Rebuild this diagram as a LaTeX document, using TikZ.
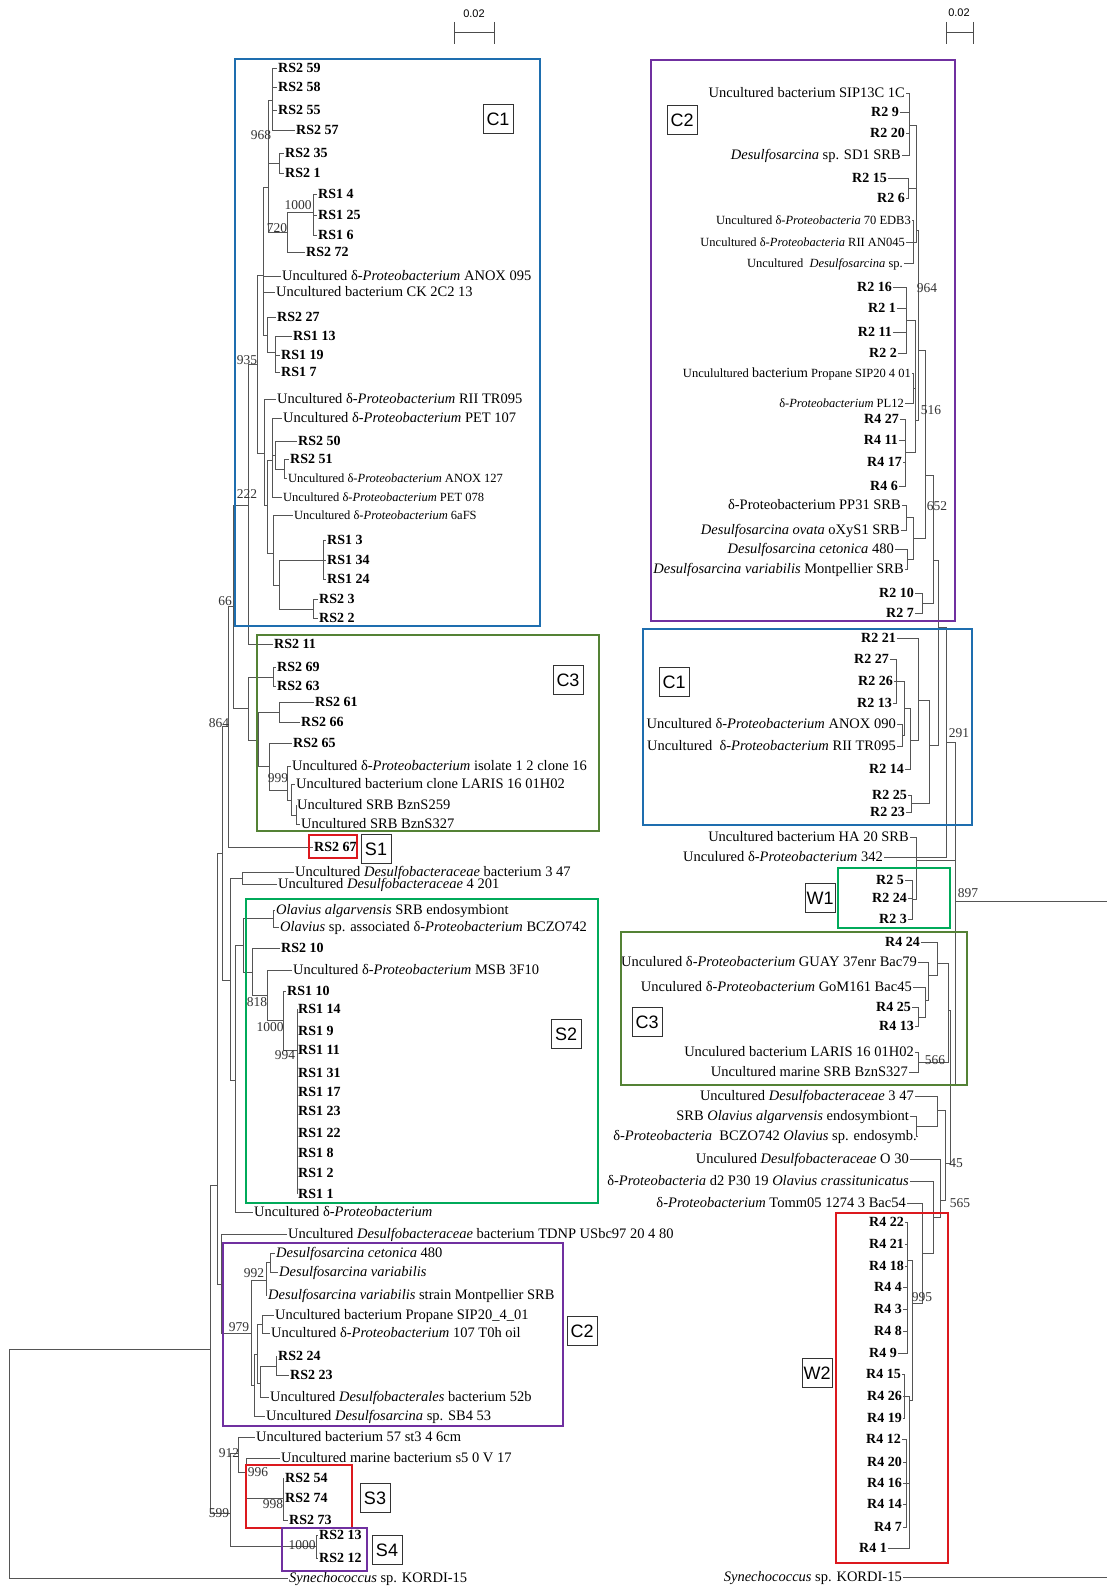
\documentclass[tikz,border=0pt]{standalone}
\usepackage{fontspec}
\setmainfont{Liberation Serif}
\newfontfamily\tagfont{Liberation Sans}
\definecolor{treegray}{RGB}{85,85,85}
\definecolor{cladeblue}{RGB}{30,110,175}
\definecolor{cladepurple}{RGB}{112,48,160}
\definecolor{cladeolive}{RGB}{84,130,53}
\definecolor{cladegreen}{RGB}{0,170,90}
\definecolor{cladered}{RGB}{220,25,30}
\tikzstyle{branch} = [draw=treegray, line width=0.8pt]
\tikzstyle{leaf} = [anchor=west, inner xsep=1pt, inner ysep=0pt, text height=9pt, text depth=0pt, font=\fontsize{14.5}{16}\selectfont]
\tikzstyle{leafb} = [leaf, font=\fontsize{14}{16}\selectfont\bfseries]
\tikzstyle{leafs} = [leaf, font=\fontsize{12.5}{14}\selectfont]
\tikzstyle{rleaf} = [leaf, anchor=east]
\tikzstyle{rleafb} = [leafb, anchor=east]
\tikzstyle{rleafs} = [leafs, anchor=east]
\tikzstyle{boot} = [inner sep=0pt, text height=8pt, text depth=0pt, text=black!80, font=\fontsize{13.5}{15}\selectfont]
\tikzstyle{clade} = [line width=2.6pt]
\tikzstyle{tag} = [draw=black!80, line width=0.7pt, fill=white, inner sep=0pt, minimum width=30pt, minimum height=29pt, font=\tagfont\fontsize{18}{20}\selectfont]
\tikzstyle{scalebar} = [draw=black!70, line width=1pt]

\begin{document}
\begin{tikzpicture}[x=1pt, y=-1pt]
\useasboundingbox (0,0) rectangle (1107,1586);
\clip (0,0) rectangle (1107,1586);

% scale bars
\node[inner sep=0pt, font=\tagfont\fontsize{11}{13}\selectfont] (sc1) at (474,14) {0.02};
\node[inner sep=0pt, font=\tagfont\fontsize{11}{13}\selectfont] (sc2) at (959,13) {0.02};
\draw[scalebar] (454,22) -- (454,44) (454,33) -- (494,33) (494,22) -- (494,44);
\draw[scalebar] (946,22) -- (946,44) (946,33) -- (973,33) (973,22) -- (973,44);

% ---------------- left tree: leaves
\node[leafb] (a1) at (277,68) {RS2 59};
\node[leafb] (a2) at (277,87) {RS2 58};
\node[leafb] (a3) at (277,110) {RS2 55};
\node[leafb] (a4) at (295,130) {RS2 57};
\node[leafb] (a5) at (284,153) {RS2 35};
\node[leafb] (a6) at (284,173) {RS2 1};
\node[leafb] (a7) at (317,194) {RS1 4};
\node[leafb] (a8) at (317,215) {RS1 25};
\node[leafb] (a9) at (317,235) {RS1 6};
\node[leafb] (a10) at (305,252) {RS2 72};
\node[leaf] (a11) at (281,276) {Uncultured δ-\textit{Proteobacterium} ANOX 095};
\node[leaf] (a12) at (275,292) {Uncultured bacterium CK 2C2 13};
\node[leafb] (a13) at (276,317) {RS2 27};
\node[leafb] (a14) at (292,336) {RS1 13};
\node[leafb] (a15) at (280,355) {RS1 19};
\node[leafb] (a16) at (280,372) {RS1 7};
\node[leaf] (a17) at (276,399) {Uncultured δ-\textit{Proteobacterium} RII TR095};
\node[leaf] (a18) at (282,418) {Uncultured δ-\textit{Proteobacterium} PET 107};
\node[leafb] (a19) at (297,441) {RS2 50};
\node[leafb] (a20) at (289,459) {RS2 51};
\node[leafs] (a21) at (287,478) {Uncultured δ-\textit{Proteobacterium} ANOX 127};
\node[leafs] (a22) at (282,497) {Uncultured δ-\textit{Proteobacterium} PET 078};
\node[leafs] (a23) at (293,515) {Uncultured δ-\textit{Proteobacterium} 6aFS};
\node[leafb] (a24) at (326,540) {RS1 3};
\node[leafb] (a25) at (326,560) {RS1 34};
\node[leafb] (a26) at (326,579) {RS1 24};
\node[leafb] (a27) at (318,599) {RS2 3};
\node[leafb] (a28) at (318,618) {RS2 2};
\node[leafb] (a29) at (273,644) {RS2 11};
\node[leafb] (a30) at (276,667) {RS2 69};
\node[leafb] (a31) at (276,686) {RS2 63};
\node[leafb] (a32) at (314,702) {RS2 61};
\node[leafb] (a33) at (300,722) {RS2 66};
\node[leafb] (a34) at (292,743) {RS2 65};
\node[leaf] (a35) at (291,766) {Uncultured δ-\textit{Proteobacterium} isolate 1 2 clone 16};
\node[leaf] (a36) at (295,784) {Uncultured bacterium clone LARIS 16 01H02};
\node[leaf] (a37) at (296,805) {Uncultured SRB BznS259};
\node[leaf] (a38) at (300,824) {Uncultured SRB BznS327};
\node[leafb] (a39) at (313,847) {RS2 67};
\node[leaf] (a40) at (294,872) {Uncultured \textit{Desulfobacteraceae} bacterium 3 47};
\node[leaf] (a41) at (277,884) {Uncultured \textit{Desulfobacteraceae} 4 201};
\node[leaf] (a42) at (275,910) {\textit{Olavius algarvensis} SRB endosymbiont};
\node[leaf] (a43) at (279,927) {\textit{Olavius} sp. associated δ-\textit{Proteobacterium} BCZO742};
\node[leafb] (a44) at (280,948) {RS2 10};
\node[leaf] (a45) at (292,970) {Uncultured δ-\textit{Proteobacterium} MSB 3F10};
\node[leafb] (a46) at (286,991) {RS1 10};
\node[leafb] (a47) at (297,1009) {RS1 14};
\node[leafb] (a48) at (297,1031) {RS1 9};
\node[leafb] (a49) at (297,1050) {RS1 11};
\node[leafb] (a50) at (297,1073) {RS1 31};
\node[leafb] (a51) at (297,1092) {RS1 17};
\node[leafb] (a52) at (297,1111) {RS1 23};
\node[leafb] (a53) at (297,1133) {RS1 22};
\node[leafb] (a54) at (297,1153) {RS1 8};
\node[leafb] (a55) at (297,1173) {RS1 2};
\node[leafb] (a56) at (297,1194) {RS1 1};
\node[leaf] (a57) at (253,1212) {Uncultured δ-\textit{Proteobacterium}};
\node[leaf] (a58) at (287,1234) {Uncultured \textit{Desulfobacteraceae} bacterium TDNP USbc97 20 4 80};
\node[leaf] (a59) at (275,1253) {\textit{Desulfosarcina cetonica} 480};
\node[leaf] (a60) at (278,1272) {\textit{Desulfosarcina variabilis}};
\node[leaf] (a61) at (267,1295) {\textit{Desulfosarcina variabilis} strain Montpellier SRB};
\node[leaf] (a62) at (274,1315) {Uncultured bacterium Propane SIP20\_4\_01};
\node[leaf] (a63) at (270,1333) {Uncultured δ-\textit{Proteobacterium} 107 T0h oil};
\node[leafb] (a64) at (277,1356) {RS2 24};
\node[leafb] (a65) at (289,1375) {RS2 23};
\node[leaf] (a66) at (269,1397) {Uncultured \textit{Desulfobacterales} bacterium 52b};
\node[leaf] (a67) at (265,1416) {Uncultured \textit{Desulfosarcina} sp. SB4 53};
\node[leaf] (a68) at (255,1437) {Uncultured bacterium 57 st3 4 6cm};
\node[leaf] (a69) at (280,1458) {Uncultured marine bacterium s5 0 V 17};
\node[leafb] (a70) at (284,1478) {RS2 54};
\node[leafb] (a71) at (284,1498) {RS2 74};
\node[leafb] (a72) at (288,1520) {RS2 73};
\node[leafb] (a73) at (318,1535) {RS2 13};
\node[leafb] (a74) at (318,1558) {RS2 12};
\node[leaf] (a75) at (288,1578) {\textit{Synechococcus} sp. KORDI-15};

% left tree: inner nodes
\coordinate (c968) at (272,100);
\coordinate (cB) at (279,163);
\coordinate (c1000a) at (313,212);
\coordinate (c720) at (287,232);
\coordinate (cC1a) at (268,187);
\coordinate (c275) at (275,352);
\coordinate (c267) at (267,335);
\coordinate (c263) at (263,275);
\coordinate (cRS3) at (323,560);
\coordinate (cRS2b) at (313,609);
\coordinate (cR) at (279,585);
\coordinate (c6a) at (273,553);
\coordinate (c51) at (284,469);
\coordinate (c50) at (275,455);
\coordinate (cP) at (272,460);
\coordinate (cQ) at (267,505);
\coordinate (cLow) at (264,453);
\coordinate (c935) at (257,364);
\coordinate (c222) at (248,505);
\coordinate (c6963) at (273,677);
\coordinate (c6166) at (279,712);
\coordinate (cBzn) at (296,815);
\coordinate (cLar) at (291,800);
\coordinate (c999) at (287,790);
\coordinate (c65) at (269,766);
\coordinate (cC3a) at (258,740);
\coordinate (cC3) at (248,708);
\coordinate (c66) at (233,606);
\coordinate (c864) at (228,726);
\coordinate (cDes) at (242,878);
\coordinate (cOl) at (273,918);
\coordinate (c994) at (297,1050);
\coordinate (c1000c) at (283,1020);
\coordinate (cMsb) at (267,995);
\coordinate (c818) at (252,972);
\coordinate (cS2) at (243,945);
\coordinate (cS2b) at (235,1080);
\coordinate (c230) at (230,980);
\coordinate (cUp) at (222,853);
\coordinate (cDc) at (270,1262);
\coordinate (c992) at (266,1280);
\coordinate (cPr) at (262,1324);
\coordinate (c2423) at (276,1366);
\coordinate (c52) at (260,1383);
\coordinate (cC2c) at (257,1354);
\coordinate (cC2b) at (254,1385);
\coordinate (c979) at (251,1333);
\coordinate (cLowL) at (221,1284);
\coordinate (cMid) at (217,1185);
\coordinate (c998) at (283,1498);
\coordinate (c996) at (246,1472);
\coordinate (c912) at (238,1453);
\coordinate (c1000d) at (316,1546);
\coordinate (c599) at (230,1513);
\coordinate (cTop) at (210,1349);
\coordinate (cRoot) at (9,1460);

% left tree: branches
\draw[branch] (c968) |- (a1.west) (c968) |- (a2.west) (c968) |- (a3.west) (c968) |- (a4.west);
\draw[branch] (cB) |- (a5.west) (cB) |- (a6.west);
\draw[branch] (c1000a) |- (a7.west) (c1000a) |- (a8.west) (c1000a) |- (a9.west);
\draw[branch] (c720) |- (c1000a) (c720) |- (a10.west);
\draw[branch] (cC1a) |- (c968) (cC1a) |- (cB) (cC1a) |- (c720);
\draw[branch] (c275) |- (a14.west) (c275) |- (a15.west) (c275) |- (a16.west);
\draw[branch] (c267) |- (a13.west) (c267) |- (c275);
\draw[branch] (c263) |- (cC1a) (c263) |- (a11.west) (c263) |- (a12.west) (c263) |- (c267);
\draw[branch] (cRS3) |- (a24.west) (cRS3) |- (a25.west) (cRS3) |- (a26.west);
\draw[branch] (cRS2b) |- (a27.west) (cRS2b) |- (a28.west);
\draw[branch] (cR) |- (cRS3) (cR) |- (cRS2b);
\draw[branch] (c6a) |- (a23.west) (c6a) |- (cR);
\draw[branch] (c51) |- (a20.west) (c51) |- (a21.west);
\draw[branch] (c50) |- (a19.west) (c50) |- (c51);
\draw[branch] (cP) |- (a18.west) (cP) |- (c50) (cP) |- (a22.west);
\draw[branch] (cQ) |- (cP) (cQ) |- (c6a);
\draw[branch] (cLow) |- (a17.west) (cLow) |- (cQ);
\draw[branch] (c935) |- (c263) (c935) |- (cLow);
\draw[branch] (c222) |- (c935) (c222) |- (a29.west);
\draw[branch] (c6963) |- (a30.west) (c6963) |- (a31.west);
\draw[branch] (c6166) |- (a32.west) (c6166) |- (a33.west);
\draw[branch] (cBzn) |- (a37.west) (cBzn) |- (a38.west);
\draw[branch] (cLar) |- (a36.west) (cLar) |- (cBzn);
\draw[branch] (c999) |- (a35.west) (c999) |- (cLar);
\draw[branch] (c65) |- (a34.west) (c65) |- (c999);
\draw[branch] (cC3a) |- (c6166) (cC3a) |- (c65);
\draw[branch] (cC3) |- (c6963) (cC3) |- (cC3a);
\draw[branch] (c66) |- (c222) (c66) |- (cC3);
\draw[branch] (c864) |- (c66) (c864) |- (a39.west);
\draw[branch] (cDes) |- (a40.west) (cDes) |- (a41.west);
\draw[branch] (cOl) |- (a42.west) (cOl) |- (a43.west);
\draw[branch] (c994) |- (a47.west) (c994) |- (a48.west) (c994) |- (a49.west) (c994) |- (a50.west)
  (c994) |- (a51.west) (c994) |- (a52.west) (c994) |- (a53.west) (c994) |- (a54.west)
  (c994) |- (a55.west) (c994) |- (a56.west);
\draw[branch] (c1000c) |- (a46.west) (c1000c) |- (c994);
\draw[branch] (cMsb) |- (a45.west) (cMsb) |- (c1000c);
\draw[branch] (c818) |- (a44.west) (c818) |- (cMsb);
\draw[branch] (cS2) |- (cOl) (cS2) |- (c818);
\draw[branch] (cS2b) |- (cS2) (cS2b) |- (a57.west);
\draw[branch] (c230) |- (cDes) (c230) |- (cS2b);
\draw[branch] (cUp) |- (c864) (cUp) |- (c230);
\draw[branch] (cDc) |- (a59.west) (cDc) |- (a60.west);
\draw[branch] (c992) |- (cDc) (c992) |- (a61.west);
\draw[branch] (cPr) |- (a62.west) (cPr) |- (a63.west);
\draw[branch] (c2423) |- (a64.west) (c2423) |- (a65.west);
\draw[branch] (c52) |- (c2423) (c52) |- (a66.west);
\draw[branch] (cC2c) |- (cPr) (cC2c) |- (c52);
\draw[branch] (cC2b) |- (cC2c) (cC2b) |- (a67.west);
\draw[branch] (c979) |- (c992) (c979) |- (cC2b);
\draw[branch] (cLowL) |- (a58.west) (cLowL) |- (c979);
\draw[branch] (cMid) |- (cUp) (cMid) |- (cLowL);
\draw[branch] (c998) |- (a70.west) (c998) |- (a71.west) (c998) |- (a72.west);
\draw[branch] (c996) |- (a69.west) (c996) |- (c998);
\draw[branch] (c912) |- (a68.west) (c912) |- (c996);
\draw[branch] (c1000d) |- (a73.west) (c1000d) |- (a74.west);
\draw[branch] (c599) |- (c912) (c599) |- (c1000d);
\draw[branch] (cTop) |- (cMid) (cTop) |- (c599);
\draw[branch] (cRoot) |- (cTop) (cRoot) |- (a75.west);

% left tree: bootstrap values
\node[boot] (bs968) at (261,136) {968};
\node[boot] (bs1000a) at (298,206) {1000};
\node[boot] (bs720) at (277,229) {720};
\node[boot] (bs935) at (247,360) {935};
\node[boot] (bs222) at (247,494) {222};
\node[boot] (bs66) at (225,601) {66};
\node[boot] (bs864) at (219,723) {864};
\node[boot] (bs999) at (278,778) {999};
\node[boot] (bs818) at (257,1002) {818};
\node[boot] (bs1000c) at (270,1027) {1000};
\node[boot] (bs994) at (285,1055) {994};
\node[boot] (bs992) at (254,1273) {992};
\node[boot] (bs979) at (239,1327) {979};
\node[boot] (bs912) at (229,1453) {912};
\node[boot] (bs996) at (258,1472) {996};
\node[boot] (bs998) at (273,1504) {998};
\node[boot] (bs599) at (219,1513) {599};
\node[boot] (bs1000d) at (302,1545) {1000};

% ---------------- right tree: leaves
\node[rleaf] (b1) at (906,93) {Uncultured bacterium SIP13C 1C};
\node[rleafb] (b2) at (900,112) {R2 9};
\node[rleafb] (b3) at (906,133) {R2 20};
\node[rleaf] (b4) at (902,155) {\textit{Desulfosarcina} sp. SD1 SRB};
\node[rleafb] (b5) at (888,178) {R2 15};
\node[rleafb] (b6) at (906,198) {R2 6};
\node[rleafs] (b7) at (912,220) {Uncultured δ-\textit{Proteobacteria} 70 EDB3};
\node[rleafs] (b8) at (906,242) {Uncultured δ-\textit{Proteobacteria} RII AN045};
\node[rleafs] (b9) at (904,263) {Uncultured\ \ \textit{Desulfosarcina} sp.};
\node[rleafb] (b10) at (893,287) {R2 16};
\node[rleafb] (b11) at (897,308) {R2 1};
\node[rleafb] (b12) at (893,332) {R2 11};
\node[rleafb] (b13) at (898,353) {R2 2};
\node[rleafs] (b14) at (912,373) {Unculultured {\fontsize{14}{16}\selectfont bacterium} Propane SIP20 4 01};
\node[rleafs] (b15) at (905,403) {δ-\textit{Proteobacterium} PL12};
\node[rleafb] (b16) at (900,419) {R4 27};
\node[rleafb] (b17) at (899,440) {R4 11};
\node[rleafb] (b18) at (903,462) {R4 17};
\node[rleafb] (b19) at (899,486) {R4 6};
\node[rleaf] (b20) at (902,505) {δ-Proteobacterium PP31 SRB};
\node[rleaf] (b21) at (901,530) {\textit{Desulfosarcina ovata} oXyS1 SRB};
\node[rleaf] (b22) at (895,549) {\textit{Desulfosarcina cetonica} 480};
\node[rleaf] (b23) at (905,569) {\textit{Desulfosarcina variabilis} Montpellier SRB};
\node[rleafb] (b24) at (915,593) {R2 10};
\node[rleafb] (b25) at (915,613) {R2 7};
\node[rleafb] (b26) at (897,638) {R2 21};
\node[rleafb] (b27) at (890,659) {R2 27};
\node[rleafb] (b28) at (894,681) {R2 26};
\node[rleafb] (b29) at (893,703) {R2 13};
\node[rleaf] (b30) at (897,724) {Uncultured δ-\textit{Proteobacterium} ANOX 090};
\node[rleaf] (b31) at (897,746) {Uncultured\ \ δ-\textit{Proteobacterium} RII TR095};
\node[rleafb] (b32) at (905,769) {R2 14};
\node[rleafb] (b33) at (908,795) {R2 25};
\node[rleafb] (b34) at (906,812) {R2 23};
\node[rleaf] (b35) at (910,837) {Uncultured bacterium HA 20 SRB};
\node[rleaf] (b36) at (884,857) {Unculured δ-\textit{Proteobacterium} 342};
\node[rleafb] (b37) at (905,880) {R2 5};
\node[rleafb] (b38) at (908,898) {R2 24};
\node[rleafb] (b39) at (908,919) {R2 3};
\node[rleafb] (b40) at (921,942) {R4 24};
\node[rleaf] (b41) at (918,962) {Unculured δ-\textit{Proteobacterium} GUAY 37enr Bac79};
\node[rleaf] (b42) at (913,987) {Unculured δ-\textit{Proteobacterium} GoM161 Bac45};
\node[rleafb] (b43) at (912,1007) {R4 25};
\node[rleafb] (b44) at (915,1026) {R4 13};
\node[rleaf] (b45) at (915,1052) {Unculured bacterium LARIS 16 01H02};
\node[rleaf] (b46) at (909,1072) {Uncultured marine SRB BznS327};
\node[rleaf] (b47) at (915,1096) {Uncultured \textit{Desulfobacteraceae} 3 47};
\node[rleaf] (b48) at (910,1116) {SRB \textit{Olavius algarvensis} endosymbiont};
\node[rleaf] (b49) at (918,1136) {δ-\textit{Proteobacteria}\ \ BCZO742 \textit{Olavius} sp. endosymb.};
\node[rleaf] (b50) at (910,1159) {Unculured \textit{Desulfobacteraceae} O 30};
\node[rleaf] (b51) at (910,1181) {δ-\textit{Proteobacteria} d2 P30 19 \textit{Olavius crassitunicatus}};
\node[rleaf] (b52) at (907,1203) {δ-\textit{Proteobacterium} Tomm05 1274 3 Bac54};
\node[rleafb] (b53) at (905,1222) {R4 22};
\node[rleafb] (b54) at (905,1244) {R4 21};
\node[rleafb] (b55) at (905,1266) {R4 18};
\node[rleafb] (b56) at (903,1287) {R4 4};
\node[rleafb] (b57) at (903,1309) {R4 3};
\node[rleafb] (b58) at (903,1331) {R4 8};
\node[rleafb] (b59) at (898,1353) {R4 9};
\node[rleafb] (b60) at (902,1374) {R4 15};
\node[rleafb] (b61) at (903,1396) {R4 26};
\node[rleafb] (b62) at (903,1418) {R4 19};
\node[rleafb] (b63) at (902,1439) {R4 12};
\node[rleafb] (b64) at (903,1462) {R4 20};
\node[rleafb] (b65) at (903,1483) {R4 16};
\node[rleafb] (b66) at (903,1504) {R4 14};
\node[rleafb] (b67) at (903,1527) {R4 7};
\node[rleafb] (b68) at (888,1548) {R4 1};
\node[rleaf] (b69) at (903,1577) {\textit{Synechococcus} sp. KORDI-15};

% right tree: inner nodes
\coordinate (dA) at (909,125);
\coordinate (d15) at (908,188);
\coordinate (dMix) at (913,242);
\coordinate (dUpper) at (916,230);
\coordinate (d16) at (906,320);
\coordinate (dProp) at (913,388);
\coordinate (d4a) at (905,452);
\coordinate (dC2a) at (915,420);
\coordinate (d964) at (918,350);
\coordinate (dPP) at (906,517);
\coordinate (dDc) at (907,559);
\coordinate (dDes) at (913,538);
\coordinate (d516) at (925,475);
\coordinate (d107) at (922,603);
\coordinate (d652) at (933,560);
\coordinate (d2726) at (896,681);
\coordinate (dAnox) at (902,735);
\coordinate (dC1a) at (904,708);
\coordinate (dC1b) at (910,740);
\coordinate (dC1c) at (918,700);
\coordinate (d2523) at (911,803);
\coordinate (dC1) at (929,745);
\coordinate (dC12) at (938,627);
\coordinate (d291) at (946,742);
\coordinate (dW1) at (912,899);
\coordinate (dHa) at (916,860);
\coordinate (d2513) at (918,1017);
\coordinate (dG1) at (925,1000);
\coordinate (dG2) at (928,975);
\coordinate (dG3) at (937,963);
\coordinate (dLar) at (918,1062);
\coordinate (d566) at (948,1010);
\coordinate (dOl) at (916,1126);
\coordinate (d347) at (937,1110);
\coordinate (dW2a) at (907,1260);
\coordinate (dW2b) at (904,1396);
\coordinate (dW2c) at (906,1483);
\coordinate (dW2d) at (909,1400);
\coordinate (d995) at (912,1303);
\coordinate (dTom) at (922,1253);
\coordinate (dCr) at (933,1217);
\coordinate (d565) at (940,1200);
\coordinate (d45) at (945,1163);
\coordinate (dLowR) at (950,1085);
\coordinate (d897) at (955,901);
\coordinate (dRoot) at (1112,1240);

% right tree: branches
\draw[branch] (dA) |- (b1.east) (dA) |- (b2.east) (dA) |- (b3.east) (dA) |- (b4.east);
\draw[branch] (d15) |- (b5.east) (d15) |- (b6.east);
\draw[branch] (dMix) |- (b7.east) (dMix) |- (b8.east) (dMix) |- (b9.east);
\draw[branch] (dUpper) |- (dA) (dUpper) |- (d15) (dUpper) |- (dMix);
\draw[branch] (d16) |- (b10.east) (d16) |- (b11.east) (d16) |- (b12.east) (d16) |- (b13.east);
\draw[branch] (dProp) |- (b14.east) (dProp) |- (b15.east);
\draw[branch] (d4a) |- (b16.east) (d4a) |- (b17.east) (d4a) |- (b18.east) (d4a) |- (b19.east);
\draw[branch] (dC2a) |- (d16) (dC2a) |- (dProp) (dC2a) |- (d4a);
\draw[branch] (d964) |- (dUpper) (d964) |- (dC2a);
\draw[branch] (dPP) |- (b20.east) (dPP) |- (b21.east);
\draw[branch] (dDc) |- (b22.east) (dDc) |- (b23.east);
\draw[branch] (dDes) |- (dPP) (dDes) |- (dDc);
\draw[branch] (d516) |- (d964) (d516) |- (dDes);
\draw[branch] (d107) |- (b24.east) (d107) |- (b25.east);
\draw[branch] (d652) |- (d516) (d652) |- (d107);
\draw[branch] (d2726) |- (b27.east) (d2726) |- (b28.east) (d2726) |- (b29.east);
\draw[branch] (dAnox) |- (b30.east) (dAnox) |- (b31.east);
\draw[branch] (dC1a) |- (d2726) (dC1a) |- (dAnox);
\draw[branch] (dC1b) |- (dC1a) (dC1b) |- (b32.east);
\draw[branch] (dC1c) |- (b26.east) (dC1c) |- (dC1b);
\draw[branch] (d2523) |- (b33.east) (d2523) |- (b34.east);
\draw[branch] (dC1) |- (dC1c) (dC1) |- (d2523);
\draw[branch] (dC12) |- (d652) (dC12) |- (dC1);
\draw[branch] (d291) |- (dC12) (d291) |- (b36.east);
\draw[branch] (dW1) |- (b37.east) (dW1) |- (b38.east) (dW1) |- (b39.east);
\draw[branch] (dHa) |- (b35.east) (dHa) |- (dW1);
\draw[branch] (d2513) |- (b43.east) (d2513) |- (b44.east);
\draw[branch] (dG1) |- (b42.east) (dG1) |- (d2513);
\draw[branch] (dG2) |- (b41.east) (dG2) |- (dG1);
\draw[branch] (dG3) |- (b40.east) (dG3) |- (dG2);
\draw[branch] (dLar) |- (b45.east) (dLar) |- (b46.east);
\draw[branch] (d566) |- (dG3) (d566) |- (dLar);
\draw[branch] (dOl) |- (b48.east) (dOl) |- (b49.east);
\draw[branch] (d347) |- (b47.east) (d347) |- (dOl);
\draw[branch] (dW2a) |- (b53.east) (dW2a) |- (b54.east) (dW2a) |- (b55.east) (dW2a) |- (b56.east)
  (dW2a) |- (b57.east) (dW2a) |- (b58.east) (dW2a) |- (b59.east);
\draw[branch] (dW2b) |- (b60.east) (dW2b) |- (b61.east) (dW2b) |- (b62.east);
\draw[branch] (dW2c) |- (b63.east) (dW2c) |- (b64.east) (dW2c) |- (b65.east) (dW2c) |- (b66.east)
  (dW2c) |- (b67.east);
\draw[branch] (dW2d) |- (dW2b) (dW2d) |- (dW2c) (dW2d) |- (b68.east);
\draw[branch] (d995) |- (dW2a) (d995) |- (dW2d);
\draw[branch] (dTom) |- (b52.east) (dTom) |- (d995);
\draw[branch] (dCr) |- (b51.east) (dCr) |- (dTom);
\draw[branch] (d565) |- (b50.east) (d565) |- (dCr);
\draw[branch] (d45) |- (d347) (d45) |- (d565);
\draw[branch] (dLowR) |- (d566) (dLowR) |- (d45);
\draw[branch] (d897) |- (d291) (d897) |- (dHa) (d897) |- (dLowR);
\draw[branch] (dRoot) |- (d897) (dRoot) |- (b69.east);

% right tree: bootstrap values
\node[boot] (bs964) at (927,289) {964};
\node[boot] (bs516) at (931,410) {516};
\node[boot] (bs652) at (937,506) {652};
\node[boot] (bs291) at (959,733) {291};
\node[boot] (bs897) at (968,893) {897};
\node[boot] (bs566) at (935,1060) {566};
\node[boot] (bs45) at (956,1163) {45};
\node[boot] (bs565) at (960,1203) {565};
\node[boot] (bs995) at (922,1297) {995};

% ---------------- clade boxes
\draw[clade, cladeblue] (235,59) rectangle (540,626);
\draw[clade, cladeolive] (257,635) rectangle (599,831);
\draw[clade, cladered] (309,835) rectangle (357,858);
\draw[clade, cladegreen] (246,899) rectangle (598,1203);
\draw[clade, cladepurple] (223,1243) rectangle (563,1426);
\draw[clade, cladered] (246,1465) rectangle (352,1528);
\draw[clade, cladepurple] (282,1528) rectangle (367,1571);
\draw[clade, cladepurple] (651,60) rectangle (955,621);
\draw[clade, cladeblue] (643,629) rectangle (972,825);
\draw[clade, cladegreen] (838,868) rectangle (950,928);
\draw[clade, cladeolive] (621,932) rectangle (967,1085);
\draw[clade, cladered] (836,1213) rectangle (948,1563);

% clade tags
\node[tag] (tC1a) at (498,119) {C1};
\node[tag] (tC3a) at (568,680) {C3};
\node[tag] (tS1) at (376,849) {S1};
\node[tag] (tS2) at (566,1034) {S2};
\node[tag] (tC2a) at (582,1331) {C2};
\node[tag] (tS3) at (375,1498) {S3};
\node[tag] (tS4) at (387,1550) {S4};
\node[tag] (tC2b) at (682,120) {C2};
\node[tag] (tC1b) at (674,682) {C1};
\node[tag] (tW1) at (820,898) {W1};
\node[tag] (tC3b) at (647,1022) {C3};
\node[tag] (tW2) at (817,1373) {W2};
\end{tikzpicture}
\end{document}
